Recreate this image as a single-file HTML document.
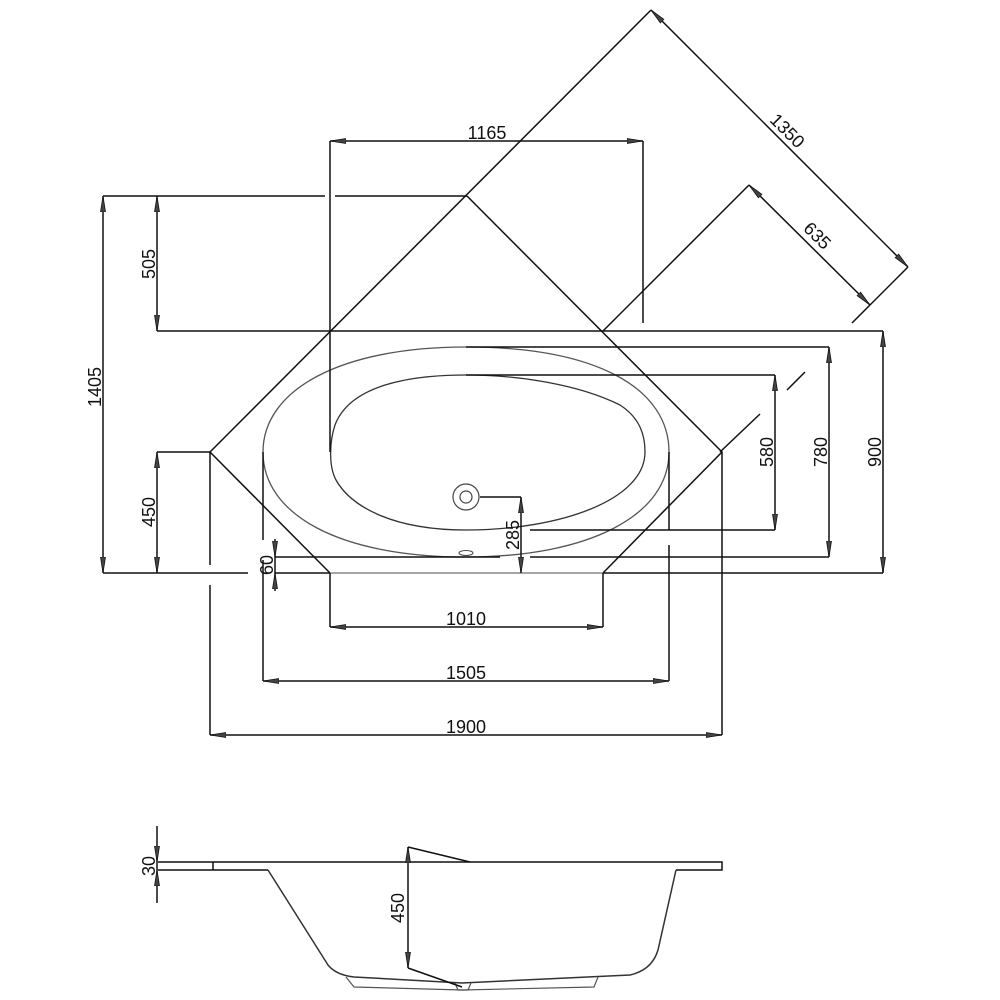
<!DOCTYPE html>
<html><head><meta charset="utf-8"><style>html,body{margin:0;padding:0;background:#fff}svg{display:block}</style></head>
<body>
<svg width="1000" height="1000" viewBox="0 0 1000 1000" xmlns="http://www.w3.org/2000/svg">
<defs>
<marker id="a" viewBox="0 0 16 7" refX="16" refY="3.5" markerWidth="16" markerHeight="7" markerUnits="userSpaceOnUse" orient="auto-start-reverse">
<path d="M0,1 L16,3.5 L0,6 Z" fill="#444" stroke="#111" stroke-width="0.8"/>
</marker>
</defs>
<g fill="none" stroke="#111" stroke-width="1.5">
<path d="M210,452 L651,10"/>
<path d="M467,196 L722,452 L603,573"/>
<path d="M210,452 L330,573"/>
<path d="M603,331 L749,185"/>
<path d="M330,573 L603,573" stroke="#888"/>
<path d="M157,331 L883,331"/>
<path d="M466,347 C600,347 669,390 669,452 C669,515 590,557 466,557 C340,557 263,515 263,452 C263,390 340,347 466,347 Z" stroke="#555" stroke-width="1.3"/>
<path d="M466,375 C520,375 580,385 620,405 C640,418 645,435 645,452 C645,500 560,530 466,530 C390,530 350,505 336,480 C328,465 330,440 335,425 C350,385 410,375 466,375 Z" stroke="#333" stroke-width="1.3"/>
<circle cx="466" cy="497" r="13" stroke="#444" stroke-width="1.2"/>
<circle cx="466" cy="497" r="6" stroke="#444" stroke-width="1.2"/>
<ellipse cx="466" cy="553" rx="7" ry="2.5" stroke="#444" stroke-width="1"/>
<path d="M330,141 L330,452"/>
<path d="M643,141 L643,323"/>
<path d="M103,196 L325,196 M335,196 L467,196"/>
<path d="M103,573 L248,573"/>
<path d="M157,452 L210,452"/>
<path d="M603,573 L883,573"/>
<path d="M466,347 L829,347"/>
<path d="M530,557 L829,557"/>
<path d="M466,375 L775,375"/>
<path d="M530,530 L775,530"/>
<path d="M480,497 L521,497"/>
<path d="M275,557 L500,557 M275,573 L330,573"/>
<path d="M330,573 L330,627 M603,573 L603,627"/>
<path d="M263,452 L263,540 M263,560 L263,681 M669,452 L669,530 M669,545 L669,681"/>
<path d="M210,452 L210,565 M210,585 L210,735 M722,452 L722,735"/>
<path d="M908,267 L852,323"/>
<path d="M787,390 L805,372"/>
<path d="M720,452 L760,414"/>
<path d="M330,141 L643,141" marker-start="url(#a)" marker-end="url(#a)"/>
<path d="M103,196 L103,573" marker-start="url(#a)" marker-end="url(#a)"/>
<path d="M157,196 L157,331" marker-start="url(#a)" marker-end="url(#a)"/>
<path d="M157,452 L157,573" marker-start="url(#a)" marker-end="url(#a)"/>
<path d="M883,331 L883,573" marker-start="url(#a)" marker-end="url(#a)"/>
<path d="M829,347 L829,557" marker-start="url(#a)" marker-end="url(#a)"/>
<path d="M775,375 L775,530" marker-start="url(#a)" marker-end="url(#a)"/>
<path d="M521,497 L521,573" marker-start="url(#a)" marker-end="url(#a)"/>
<path d="M275,539 L275,557" marker-end="url(#a)"/>
<path d="M275,591 L275,573" marker-end="url(#a)"/>
<path d="M275,557 L275,573"/>
<path d="M330,627 L603,627" marker-start="url(#a)" marker-end="url(#a)"/>
<path d="M263,681 L669,681" marker-start="url(#a)" marker-end="url(#a)"/>
<path d="M210,735 L722,735" marker-start="url(#a)" marker-end="url(#a)"/>
<path d="M651,10 L908,267" marker-start="url(#a)" marker-end="url(#a)"/>
<path d="M749,185 L870,305" marker-start="url(#a)" marker-end="url(#a)"/>
<path d="M158,862 L722,862 L722,870 L676,870"/>
<path d="M158,870 L213,870 L213,862 M213,870 L268,870"/>
<path d="M268,870 L328,965 Q336,975 354,977 L462,983 L630,975 Q652,970 658,950 L676,870" stroke="#333"/>
<path d="M346,977 L354,987 L462,990 L594,987 L598,977" stroke="#555" stroke-width="1.2"/>
<path d="M455,983 L458,990 L468,990 L471,983" stroke="#555" stroke-width="1.2"/>
<path d="M157,826 L157,862" marker-end="url(#a)"/>
<path d="M157,903 L157,870" marker-end="url(#a)"/>
<path d="M157,862 L157,870"/>
<path d="M408,847 L408,968" marker-start="url(#a)" marker-end="url(#a)"/>
<path d="M408,847 L470,862 M408,968 L462,987"/>
</g>
<g font-family="Liberation Sans, sans-serif" font-size="18" fill="#111" text-anchor="middle">
<text x="487" y="139">1165</text>
<text transform="translate(101,387) rotate(-90)">1405</text>
<text transform="translate(155,264) rotate(-90)">505</text>
<text transform="translate(155,512) rotate(-90)">450</text>
<text transform="translate(881,452) rotate(-90)">900</text>
<text transform="translate(827,452) rotate(-90)">780</text>
<text transform="translate(773,452) rotate(-90)">580</text>
<text transform="translate(519,535) rotate(-90)">285</text>
<text transform="translate(273,565) rotate(-90)">60</text>
<text x="466" y="625">1010</text>
<text x="466" y="679">1505</text>
<text x="466" y="733">1900</text>
<text transform="translate(783,135) rotate(45)">1350</text>
<text transform="translate(813,240) rotate(45)">635</text>
<text transform="translate(155,866) rotate(-90)">30</text>
<text transform="translate(404,908) rotate(-90)">450</text>
</g>
</svg>
</body></html>
